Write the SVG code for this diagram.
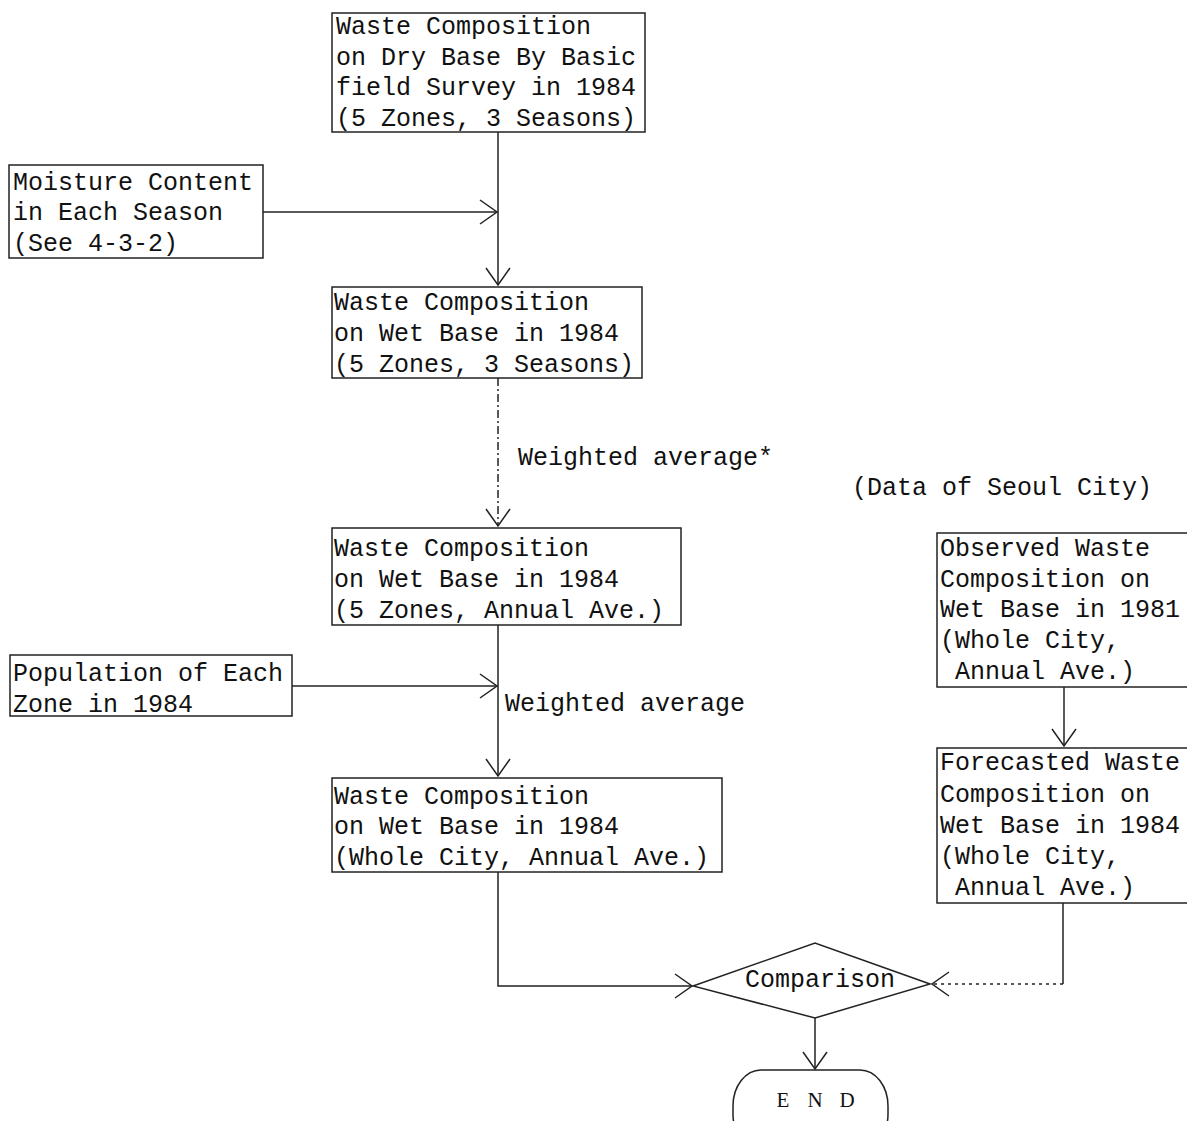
<svg xmlns="http://www.w3.org/2000/svg" width="1187" height="1121" viewBox="0 0 1187 1121">
<style>
.box{fill:#fff;stroke:#222;stroke-width:1.5}
.t{font-family:"Liberation Mono","DejaVu Sans Mono",monospace;font-size:25px;fill:#111}
.c{fill:none;stroke:#222;stroke-width:1.5}
.dot{stroke-dasharray:3 4}
.dash{stroke-dasharray:8 3 2 3}
</style>
<defs>
<marker id="ah" markerUnits="userSpaceOnUse" markerWidth="20" markerHeight="26" refX="17" refY="12" orient="auto" overflow="visible">
<path d="M0,0 L17,12 L0,24" fill="none" stroke="#222" stroke-width="1.5"/>
</marker>
</defs>
<rect width="1187" height="1121" fill="#fff"/>
<g id="connectors">
<path class="c" d="M498,132 V285" marker-end="url(#ah)"/>
<path class="c" d="M263,212 H497" marker-end="url(#ah)"/>
<path class="c dash" d="M498,378 V526" marker-end="url(#ah)"/>
<path class="c" d="M498,625 V776" marker-end="url(#ah)"/>
<path class="c" d="M292,686 H497" marker-end="url(#ah)"/>
<path class="c" d="M498,872 V986 H692" marker-end="url(#ah)"/>
<path class="c" d="M1064,687 V746" marker-end="url(#ah)"/>
<path class="c" d="M1063,903 V984"/>
<path class="c dot" d="M1063,984 H932" marker-end="url(#ah)"/>
<path class="c" d="M815,1018 V1069" marker-end="url(#ah)"/>
</g>
<g id="n1">
<rect class="box" x="332" y="13" width="313" height="119"/>
<text class="t" x="336" y="34">Waste Composition</text>
<text class="t" x="336" y="65">on Dry Base By Basic</text>
<text class="t" x="336" y="95">field Survey in 1984</text>
<text class="t" x="336" y="126">(5 Zones, 3 Seasons)</text>
</g>
<g id="n_moisture">
<rect class="box" x="9" y="165" width="254" height="93"/>
<text class="t" x="13" y="190">Moisture Content</text>
<text class="t" x="13" y="220">in Each Season</text>
<text class="t" x="13" y="251">(See 4-3-2)</text>
</g>
<g id="n2">
<rect class="box" x="332" y="287" width="310" height="91"/>
<text class="t" x="334" y="310">Waste Composition</text>
<text class="t" x="334" y="341">on Wet Base in 1984</text>
<text class="t" x="334" y="372">(5 Zones, 3 Seasons)</text>
</g>
<text class="t" x="518" y="465">Weighted average*</text>
<g id="n3">
<rect class="box" x="332" y="528" width="349" height="97"/>
<text class="t" x="334" y="556">Waste Composition</text>
<text class="t" x="334" y="587">on Wet Base in 1984</text>
<text class="t" x="334" y="618">(5 Zones, Annual Ave.)</text>
</g>
<g id="n_population">
<rect class="box" x="10" y="655" width="282" height="61"/>
<text class="t" x="13" y="681">Population of Each</text>
<text class="t" x="13" y="712">Zone in 1984</text>
</g>
<text class="t" x="505" y="711">Weighted average</text>
<g id="n4">
<rect class="box" x="332" y="778" width="390" height="94"/>
<text class="t" x="334" y="804">Waste Composition</text>
<text class="t" x="334" y="834">on Wet Base in 1984</text>
<text class="t" x="334" y="865">(Whole City, Annual Ave.)</text>
</g>
<text class="t" x="852" y="495">(Data of Seoul City)</text>
<g id="n5">
<rect class="box" x="937" y="533" width="260" height="154"/>
<text class="t" x="940" y="556">Observed Waste</text>
<text class="t" x="940" y="587">Composition on</text>
<text class="t" x="940" y="617">Wet Base in 1981</text>
<text class="t" x="940" y="648">(Whole City,</text>
<text class="t" x="955" y="679">Annual Ave.)</text>
</g>
<g id="n6">
<rect class="box" x="937" y="748" width="260" height="155"/>
<text class="t" x="940" y="770">Forecasted Waste</text>
<text class="t" x="940" y="802">Composition on</text>
<text class="t" x="940" y="833">Wet Base in 1984</text>
<text class="t" x="940" y="864">(Whole City,</text>
<text class="t" x="955" y="895">Annual Ave.)</text>
</g>
<g id="n_comparison">
<polygon class="box" points="693,986 815,943 930,984 815,1018"/>
<text class="t" x="820" y="987" text-anchor="middle">Comparison</text>
</g>
<g id="n_end">
<rect class="box" x="733" y="1070" width="155" height="80" rx="28" ry="36"/>
<text x="783 815 847" y="1107" text-anchor="middle" style="font-family:'Liberation Serif',serif;font-size:21px;fill:#111">END</text>
</g>
</svg>
